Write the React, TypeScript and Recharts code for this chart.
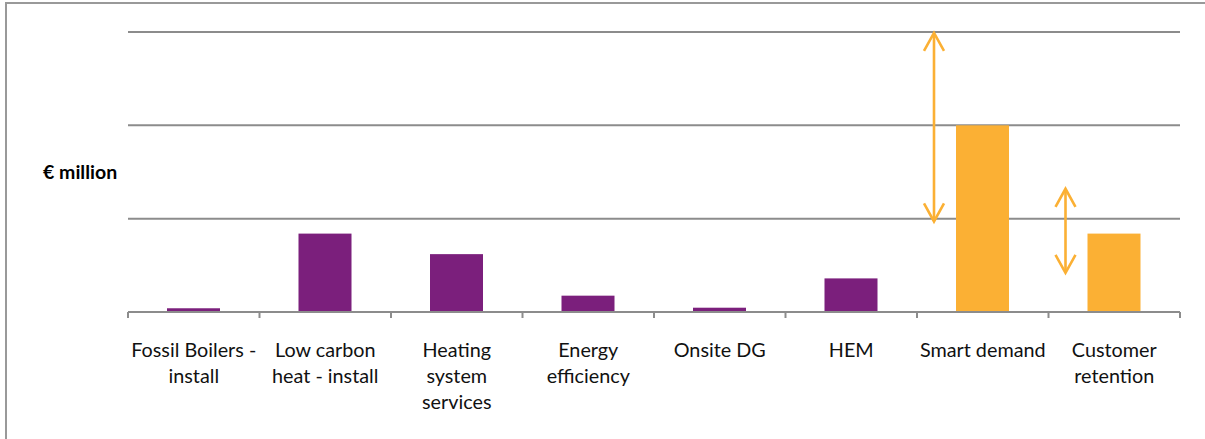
import { BarChart, Bar, XAxis, YAxis, CartesianGrid, Cell } from "recharts"

const categories = [
  "Fossil Boilers - install",
  "Low carbon heat - install",
  "Heating system services",
  "Energy efficiency",
  "Onsite DG",
  "HEM",
  "Smart demand",
  "Customer retention",
]

const tickLines = [
  ["Fossil Boilers -", "install"],
  ["Low carbon", "heat - install"],
  ["Heating", "system", "services"],
  ["Energy", "efficiency"],
  ["Onsite DG"],
  ["HEM"],
  ["Smart demand"],
  ["Customer", "retention"],
]

const values = [4, 84, 62, 17.5, 4.6, 36, 200, 84]
const rangeLow = [null, null, null, null, null, null, 97, 42]
const rangeHigh = [null, null, null, null, null, null, 299, 132]
const isNew = [false, false, false, false, false, false, true, true]

const yTicks = [0, 100, 200, 300]

const data = categories.map((name, i) => ({
  name,
  value: values[i],
  low: rangeLow[i],
  high: rangeHigh[i],
}))

const W = 1205
const H = 439
const LEFT = 128
const RIGHT = 25
const TOP = 32
const BOTTOM = 127
const band = (W - LEFT - RIGHT) / categories.length

const PURPLE = "#7B1F7C"
const ORANGE = "#FBB034"
const GRID = "#8c8c8c"
const FONT = "Lato, 'Open Sans', sans-serif"

function CategoryTick(props: any) {
  const { x, y, index } = props
  const lines = tickLines[index] || []
  const left = x - band / 2
  const right = x + band / 2
  return (
    <g>
      <line x1={left} y1={y} x2={left} y2={y + 6} stroke={GRID} strokeWidth={2} />
      {index === categories.length - 1 && (
        <line x1={right} y1={y} x2={right} y2={y + 6} stroke={GRID} strokeWidth={2} />
      )}
      <text textAnchor="middle" fontSize={19.8} fill="#111" fontFamily={FONT}>
        {lines.map((t, i) => (
          <tspan key={i} x={x} y={y + 45 + i * 26}>
            {t}
          </tspan>
        ))}
      </text>
    </g>
  )
}

function NoTick() {
  return <g />
}

function Arrow({ x, y1, y2 }: { x: number; y1: number; y2: number }) {
  const hw = 10
  const hl = 18
  return (
    <g stroke={ORANGE} strokeWidth={2.6} fill="none" strokeLinejoin="miter">
      <line x1={x} y1={y1 + 1} x2={x} y2={y2 - 1} />
      <polyline points={`${x - hw},${y1 + hl} ${x},${y1} ${x + hw},${y1 + hl}`} />
      <polyline points={`${x - hw},${y2 - hl} ${x},${y2} ${x + hw},${y2 - hl}`} />
    </g>
  )
}

function BarWithRange(props: any) {
  const { x, y, width, height, fill, payload } = props
  const base = y + height
  const perUnit = payload.value ? height / payload.value : 0
  return (
    <g>
      <rect x={x} y={y} width={width} height={height} fill={fill} />
      {payload.low != null && payload.high != null && (
        <Arrow
          x={x - 22}
          y1={base - payload.high * perUnit}
          y2={base - payload.low * perUnit}
        />
      )}
    </g>
  )
}

export default function App() {
  return (
    <div
      style={{
        position: "absolute",
        left: 0,
        top: 0,
        width: W,
        height: H,
        overflow: "hidden",
        background: "#fff",
      }}
    >
      <div
        style={{
          position: "absolute",
          left: 5,
          top: 2,
          width: W + 50,
          height: H + 50,
          borderLeft: "2px solid #999",
          borderTop: "2px solid #999",
        }}
      />
      <BarChart
        width={W}
        height={H}
        data={data}
        margin={{ top: TOP, right: RIGHT, left: 0, bottom: 0 }}
        barSize={53}
        style={{ position: "absolute", left: 0, top: 0 }}
      >
        <CartesianGrid vertical={false} stroke={GRID} strokeWidth={2} horizontalValues={yTicks} />
        <XAxis
          dataKey="name"
          height={BOTTOM}
          interval={0}
          axisLine={{ stroke: GRID, strokeWidth: 2 }}
          tickLine={false}
          tickSize={0}
          tickMargin={0}
          tick={<CategoryTick />}
        />
        <YAxis
          width={LEFT}
          domain={[0, 300]}
          ticks={yTicks}
          axisLine={false}
          tickLine={false}
          tick={<NoTick />}
          label={{
            value: "€ million",
            position: "insideLeft",
            offset: 43,
            style: { fontFamily: FONT, fontWeight: 700, fontSize: 19.5, fill: "#000", textAnchor: "start" },
          }}
        />
        <Bar dataKey="value" isAnimationActive={false} shape={<BarWithRange />}>
          {data.map((d, i) => (
            <Cell key={d.name} fill={isNew[i] ? ORANGE : PURPLE} />
          ))}
        </Bar>
      </BarChart>
    </div>
  )
}
